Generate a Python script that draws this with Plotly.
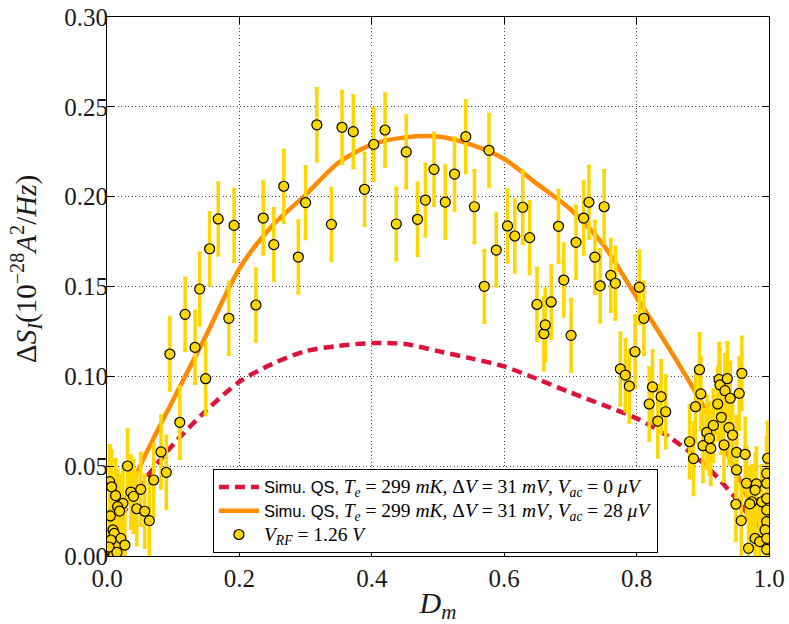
import plotly.graph_objects as go

# ---------------- data ----------------
sim_x = [0.01, 0.05, 0.10, 0.15, 0.20, 0.25, 0.30, 0.35, 0.40, 0.45, 0.50,
         0.55, 0.60, 0.65, 0.70, 0.75, 0.80, 0.85, 0.90, 0.95, 0.99]
sim_vac0 = [0.014, 0.039, 0.062, 0.081, 0.097, 0.107, 0.114, 0.117, 0.1185, 0.118, 0.114,
            0.110, 0.1055, 0.0985, 0.091, 0.084, 0.0766, 0.066, 0.052, 0.032, 0.012]
sim_vac28 = [0.014, 0.050, 0.087, 0.123, 0.160, 0.184, 0.201, 0.219, 0.229, 0.233, 0.2335,
             0.229, 0.221, 0.207, 0.193, 0.173, 0.144, 0.115, 0.084, 0.047, 0.012]

meas_x = [
    0.004, 0.007, 0.013, 0.024, 0.016, 0.019, 0.031, 0.036, 0.040, 0.045, 0.051, 0.057,
    0.064, 0.005, 0.009, 0.011, 0.021, 0.006, 0.027, 0.007, 0.010, 0.003, 0.015,
    0.0705, 0.0816, 0.0896, 0.095, 0.110, 0.118, 0.133, 0.140, 0.149, 0.155, 0.168,
    0.184, 0.192, 0.225, 0.236, 0.252, 0.267, 0.289, 0.300, 0.317, 0.339, 0.355, 0.372,
    0.389, 0.403, 0.420, 0.437, 0.452, 0.469, 0.481, 0.494, 0.511, 0.525, 0.542, 0.555,
    0.570, 0.577, 0.588, 0.605, 0.616, 0.628, 0.6385, 0.6495, 0.660, 0.662, 0.671, 0.682,
    0.690, 0.701, 0.7085, 0.720, 0.728, 0.737, 0.745, 0.751, 0.761, 0.768, 0.7755, 0.783,
    0.789, 0.7976, 0.804, 0.811, 0.819, 0.824, 0.832, 0.837, 0.844,
    0.880, 0.886, 0.889, 0.895, 0.897, 0.9003, 0.906, 0.910, 0.912, 0.916, 0.9225, 0.9245,
    0.926, 0.928, 0.932, 0.9335, 0.937, 0.9396, 0.9415, 0.945, 0.951, 0.955, 0.959, 0.964,
    0.951, 0.966, 0.981, 0.979, 0.9965, 0.9965, 0.998, 0.974, 0.989, 0.9965, 0.950, 0.971,
    0.9965, 0.9965, 0.958, 0.994, 0.979, 0.986, 0.9965, 0.969, 0.9965,
]
meas_y = [
    0.0414, 0.0385, 0.0336, 0.0293, 0.0275, 0.0250, 0.0501, 0.0356, 0.0332, 0.0263, 0.0371, 0.0249,
    0.0197, 0.0223, 0.0145, 0.0126, 0.0098, 0.0089, 0.0061, 0.0024, 0.0006, 0.0050, 0.0020,
    0.0423, 0.0579, 0.0466, 0.1124, 0.0744, 0.1345, 0.1161, 0.1486, 0.0987, 0.1710, 0.1876,
    0.1323, 0.1840, 0.1397, 0.1881, 0.1733, 0.2058, 0.1664, 0.1967, 0.2400, 0.1846, 0.2386, 0.2362,
    0.2041, 0.2291, 0.2371, 0.1848, 0.2249, 0.1874, 0.1981, 0.2152, 0.1970, 0.2126, 0.2334, 0.1944,
    0.1501, 0.2258, 0.1703, 0.1837, 0.1781, 0.1941, 0.1772, 0.1400, 0.1237, 0.1286, 0.1414, 0.1835,
    0.1536, 0.1228, 0.1746, 0.1881, 0.1969, 0.1663, 0.1504, 0.1944, 0.1562, 0.1518, 0.1041, 0.1007,
    0.0946, 0.1137, 0.1496, 0.1323, 0.0846, 0.0941, 0.0751, 0.0887, 0.0803,
    0.0636, 0.0542, 0.0831, 0.1037, 0.0902, 0.0614, 0.0688, 0.0655, 0.0599, 0.0727, 0.0846, 0.0983,
    0.0952, 0.0772, 0.0618, 0.0920, 0.0987, 0.0714, 0.0878, 0.0673, 0.0577, 0.0905, 0.1017, 0.0566,
    0.0479, 0.0405, 0.0401, 0.0367, 0.0460, 0.0405, 0.0544, 0.0302, 0.0302, 0.0320, 0.0288, 0.0290,
    0.0256, 0.0191, 0.0197, 0.0145, 0.0098, 0.0080, 0.0098, 0.0043, 0.0037,
]
meas_err = 0.02

x_ticks = [0.0, 0.2, 0.4, 0.6, 0.8, 1.0]
y_ticks = [0.00, 0.05, 0.10, 0.15, 0.20, 0.25, 0.30]

SERIF = "Liberation Serif"
SANS = "Liberation Sans"
GOLD = "#FFD700"


def mathspan(s):
    return "<span style=\"font-family:'%s';font-size:19.5px\">%s</span>" % (SERIF, s)


def sansspan(s):
    return "<span style=\"font-family:'%s';font-size:16.5px\">%s</span>" % (SANS, s)


lab0 = sansspan("Simu. QS, ") + mathspan(
    "<i>T<sub>e</sub></i> = 299 <i>mK</i>, Δ<i>V</i> = 31 <i>mV</i>, <i>V<sub>ac</sub></i> = 0 <i>μV</i>")
lab28 = sansspan("Simu. QS, ") + mathspan(
    "<i>T<sub>e</sub></i> = 299 <i>mK</i>, Δ<i>V</i> = 31 <i>mV</i>, <i>V<sub>ac</sub></i> = 28 <i>μV</i>")
labdata = mathspan("<i>V<sub>RF</sub></i> = 1.26 <i>V</i>")

fig = go.Figure()
fig.add_trace(go.Scatter(x=sim_x, y=sim_vac0, mode="lines", name=lab0,
                         line=dict(color="#DC143C", width=4.5, dash="10px,6px",
                                   shape="spline", smoothing=0.8)))
fig.add_trace(go.Scatter(x=sim_x, y=sim_vac28, mode="lines", name=lab28,
                         line=dict(color="#FF8C00", width=4.5, shape="spline", smoothing=0.8)))
fig.add_trace(go.Scatter(x=meas_x, y=meas_y, mode="markers", name=labdata,
                         marker=dict(color=GOLD, size=10, line=dict(color="black", width=1.2)),
                         error_y=dict(type="constant", value=meas_err, color=GOLD,
                                      thickness=3.5, width=2)))

axis_common = dict(
    showline=True, linecolor="black", linewidth=1.2, mirror="allticks",
    ticks="inside", ticklen=7, tickcolor="black", tickwidth=1,
    showgrid=True, gridcolor="#444444", gridwidth=1, griddash="1px,2.5px",
    zeroline=False, automargin=False,
    tickfont=dict(family=SERIF, size=25, color="#1a1a1a"),
)

fig.update_layout(
    width=789, height=624,
    margin=dict(l=107, r=20, t=17, b=68),
    paper_bgcolor="white", plot_bgcolor="white",
    font=dict(color="black"),
    showlegend=True,
    legend=dict(x=0.160, y=0.1614, xanchor="left", yanchor="top",
                bgcolor="white", bordercolor="black", borderwidth=1,
                font=dict(family=SANS, size=16, color="black"),
                itemwidth=40),
    xaxis=dict(range=[0, 1], tickvals=x_ticks, ticktext=["%.1f" % v for v in x_ticks],
               title=dict(text="<i>D<sub>m</sub></i>",
                          font=dict(family=SERIF, size=30, color="#1a1a1a"), standoff=0),
               **axis_common),
    yaxis=dict(range=[0, 0.30], tickvals=y_ticks, ticktext=["%.2f" % v for v in y_ticks],
               ticklabelstandoff=-7, **axis_common),
    annotations=[dict(
        text="Δ<i>S<sub>I</sub></i>(10<sup>−28</sup><i>A</i><sup>2</sup>/<i>Hz</i>)",
        xref="paper", yref="paper", x=-0.1224, y=0.5325, xanchor="center", yanchor="middle",
        textangle=-90, showarrow=False,
        font=dict(family=SERIF, size=29, color="#1a1a1a"))],
)

# remove the browser's default 8 px page margin so the figure sits at (0, 0)
fig.write_html("out.html", config={"displayModeBar": False},
               post_script="document.body.style.margin='0';document.body.style.overflow='hidden';")
